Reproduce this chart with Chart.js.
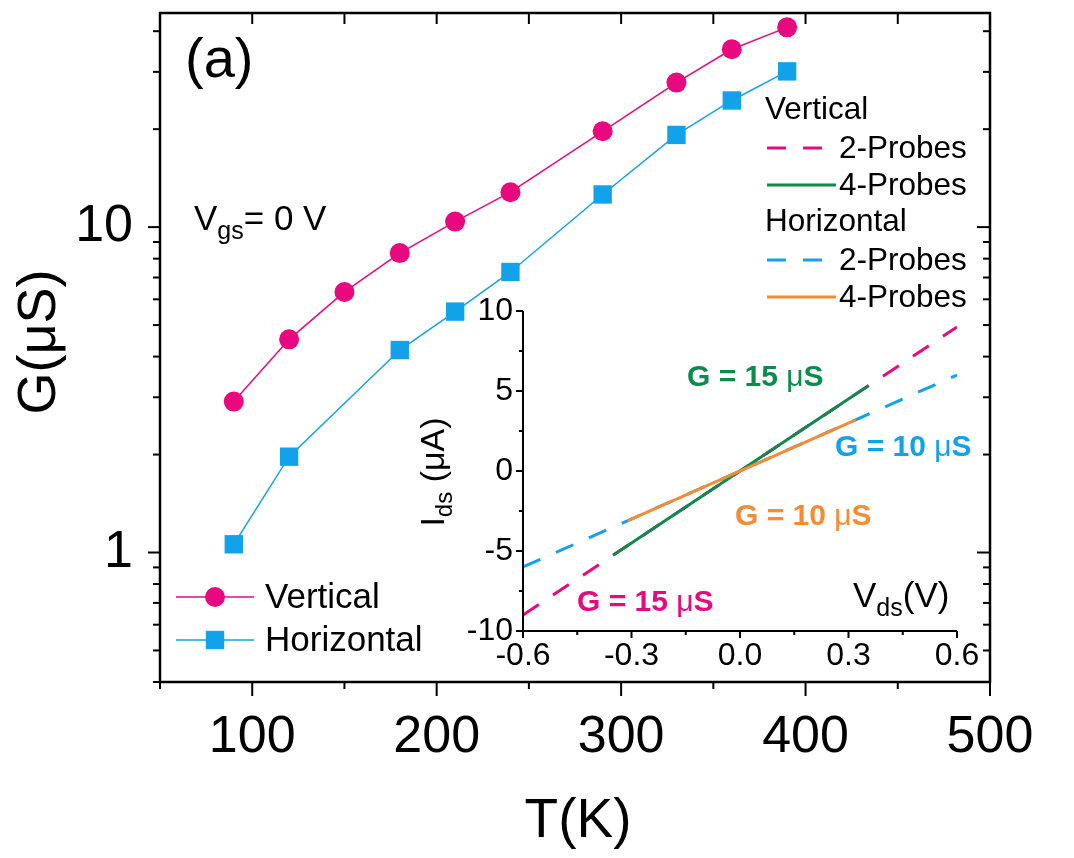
<!DOCTYPE html>
<html>
<head>
<meta charset="utf-8">
<script src="https://cdn.jsdelivr.net/npm/chart.js@4.4.1/dist/chart.umd.min.js"></script>
<style>
  html, body { margin: 0; padding: 0; background: #fff; }
  #wrap { position: relative; width: 1074px; height: 858px; overflow: hidden; }
  #main { position: absolute; left: 0; top: 0; }
  #inset { position: absolute; left: 380px; top: 280px; }
</style>
</head>
<body>
<div id="wrap">
  <canvas id="main" width="1074" height="858"></canvas>
  <canvas id="inset" width="620" height="410"></canvas>
</div>
<script>
// conductance vs temperature, Vgs = 0 V
const tVertical = [90, 120, 150, 180, 210, 240, 290, 330, 360, 390];
const gVertical = [2.91, 4.52, 6.32, 8.32, 10.4, 12.8, 19.7, 27.8, 35.2, 41.1];
const tHorizontal = [90, 120, 180, 210, 240, 290, 330, 360, 390];
const gHorizontal = [1.06, 1.97, 4.19, 5.50, 7.28, 12.6, 19.2, 24.5, 30.1];

const tTicks = [50, 100, 150, 200, 250, 300, 350, 400, 450, 500];
const tLabels = [100, 200, 300, 400, 500];
const gTicks = [0.4, 0.5, 0.6, 0.7, 0.8, 0.9, 1, 2, 3, 4, 5, 6, 7, 8, 9, 10, 20, 30, 40];
const gLabels = [1, 10];

// inset: I-V curves (V in volts, I in µA)
const vV2 = [-0.6, 0.6];      const iV2 = [-9, 9];        // vertical, 2 probes
const vV4 = [-0.35, 0.355];   const iV4 = [-5.25, 5.33];  // vertical, 4 probes
const vH2 = [-0.6, 0.6];      const iH2 = [-6, 6];        // horizontal, 2 probes
const vH4 = [-0.31, 0.32];    const iH4 = [-3.1, 3.2];    // horizontal, 4 probes

const vdsTicks = [-0.6, -0.45, -0.3, -0.15, 0, 0.15, 0.3, 0.45, 0.6];
const vdsLabels = [-0.6, -0.3, 0, 0.3, 0.6];
const idsTicks = [-10, -7.5, -5, -2.5, 0, 2.5, 5, 7.5, 10];
const idsLabels = [-10, -5, 0, 5, 10];

const PINK = '#E8097F';
const BLUE = '#12A2EA';
const GREEN = '#0E8A4E';
const ORANGE = '#F58C35';
const DASH = [19, 17];
const FONT = "'Liberation Sans', Arial, sans-serif";

const pts = (xs, ys) => xs.map((x, i) => ({ x, y: ys[i] }));
const hasVal = (arr, v) => arr.some(a => Math.abs(a - v) < 1e-9);

function line(ctx, x1, y1, x2, y2) {
  ctx.beginPath(); ctx.moveTo(x1, y1); ctx.lineTo(x2, y2); ctx.stroke();
}

// draw text pieces one after another (for subscripts)
function drawRuns(ctx, x, y, runs) {
  let cx = x;
  runs.forEach(r => {
    ctx.font = r.font;
    ctx.fillStyle = r.color || '#000';
    ctx.fillText(r.text, cx, y + (r.dy || 0));
    cx += ctx.measureText(r.text).width;
  });
  return cx - x;
}
function runsWidth(ctx, runs) {
  let w = 0;
  runs.forEach(r => { ctx.font = r.font; w += ctx.measureText(r.text).width; });
  return w;
}

const mainDecor = {
  id: 'mainDecor',
  afterDraw(chart) {
    const { ctx, chartArea: a, scales: { x, y } } = chart;
    ctx.save();
    ctx.strokeStyle = '#000';
    ctx.lineWidth = 2.5;
    ctx.strokeRect(a.left, a.top, a.right - a.left, a.bottom - a.top);
    ctx.lineWidth = 2;
    x.ticks.forEach(t => {
      const px = x.getPixelForValue(t.value);
      const major = hasVal(tLabels, t.value);
      line(ctx, px, a.bottom, px, a.bottom + (major ? 14 : 7));
      line(ctx, px, a.top, px, a.top + 11);
    });
    y.ticks.forEach(t => {
      const py = y.getPixelForValue(t.value);
      const major = hasVal(gLabels, t.value);
      line(ctx, a.left, py, a.left - (major ? 12 : 7), py);
      line(ctx, a.right, py, a.right - (major ? 13 : 7), py);
    });

    // axis titles
    ctx.fillStyle = '#000';
    ctx.textAlign = 'center';
    ctx.textBaseline = 'middle';
    ctx.font = `55px ${FONT}`;
    ctx.fillText('T(K)', 578, 822);
    ctx.save();
    ctx.translate(40, 342);
    ctx.rotate(-Math.PI / 2);
    ctx.font = `54px ${FONT}`;
    ctx.fillText('G(\u03bcS)', 0, 0);
    ctx.restore();

    // panel label and gate voltage
    ctx.textAlign = 'left';
    ctx.textBaseline = 'alphabetic';
    ctx.font = `56px ${FONT}`;
    ctx.fillText('(a)', 185, 77);
    drawRuns(ctx, 194, 230, [
      { text: 'V', font: `35px ${FONT}` },
      { text: 'gs', font: `25px ${FONT}`, dy: 9 },
      { text: '= 0 V', font: `35px ${FONT}` }
    ]);

    // legend for the G(T) series
    const ds = chart.data.datasets;
    ctx.textBaseline = 'middle';
    [[ds[0], 597], [ds[1], 640]].forEach(([d, ly]) => {
      ctx.strokeStyle = d.borderColor;
      ctx.lineWidth = d.borderWidth;
      line(ctx, 176, ly, 254, ly);
      ctx.fillStyle = d.pointBackgroundColor;
      if (d.pointStyle === 'circle') {
        ctx.beginPath(); ctx.arc(215, ly, d.pointRadius, 0, Math.PI * 2); ctx.fill();
      } else {
        const s = d.pointRadius * Math.SQRT1_2;
        ctx.fillRect(215 - s, ly - s, 2 * s, 2 * s);
      }
      ctx.fillStyle = '#000';
      ctx.font = `35px ${FONT}`;
      ctx.fillText(d.label, 265, ly + 1);
    });

    // legend for the inset curves
    const ins = insetChart ? insetChart.data.datasets : [];
    const rows = [
      { head: 'Vertical', y: 110 },
      { ds: ins.find(d => d.label === 'Vertical 2-Probes'), text: '2-Probes', y: 148 },
      { ds: ins.find(d => d.label === 'Vertical 4-Probes'), text: '4-Probes', y: 185 },
      { head: 'Horizontal', y: 222 },
      { ds: ins.find(d => d.label === 'Horizontal 2-Probes'), text: '2-Probes', y: 260 },
      { ds: ins.find(d => d.label === 'Horizontal 4-Probes'), text: '4-Probes', y: 297 }
    ];
    ctx.font = `31.5px ${FONT}`;
    rows.forEach(r => {
      ctx.fillStyle = '#000';
      if (r.head) { ctx.fillText(r.head, 765, r.y); return; }
      if (r.ds) {
        ctx.save();
        ctx.strokeStyle = r.ds.borderColor;
        ctx.lineWidth = 3;
        ctx.setLineDash(r.ds.borderDash || []);
        line(ctx, 767, r.y, 836, r.y);
        ctx.restore();
      }
      ctx.fillText(r.text, 839, r.y + 1);
    });
    ctx.restore();
  }
};

const insetDecor = {
  id: 'insetDecor',
  afterDraw(chart) {
    const { ctx, chartArea: a, scales: { x, y } } = chart;
    ctx.save();
    ctx.strokeStyle = '#000';
    ctx.lineWidth = 2;
    line(ctx, a.left, a.top, a.left, a.bottom + 1);
    line(ctx, a.left - 1, a.bottom, a.right, a.bottom);
    x.ticks.forEach(t => {
      const px = x.getPixelForValue(t.value);
      line(ctx, px, a.bottom, px, a.bottom + (hasVal(vdsLabels, t.value) ? 7 : 4));
    });
    y.ticks.forEach(t => {
      const py = y.getPixelForValue(t.value);
      line(ctx, a.left, py, a.left - (hasVal(idsLabels, t.value) ? 7 : 4), py);
    });

    // annotations (offset of the canvas inside the page: 380, 280)
    const ox = -380, oy = -280;
    ctx.textAlign = 'left';
    ctx.textBaseline = 'middle';
    const gText = (x0, y0, val, color) => drawRuns(ctx, x0 + ox, y0 + oy, [
      { text: `G = ${val} `, font: `bold 30px ${FONT}`, color },
      { text: '\u03bc', font: `30px ${FONT}`, color },
      { text: 'S', font: `bold 30px ${FONT}`, color }
    ]);
    gText(687, 378, 15, GREEN);
    gText(835, 448, 10, BLUE);
    gText(735, 517, 10, ORANGE);
    gText(577, 603, 15, PINK);

    ctx.textBaseline = 'alphabetic';
    drawRuns(ctx, 853 + ox, 607 + oy, [
      { text: 'V', font: `35px ${FONT}` },
      { text: 'ds', font: `25px ${FONT}`, dy: 9 },
      { text: '(V)', font: `35px ${FONT}` }
    ]);
    const iRuns = [
      { text: 'I', font: `34px ${FONT}` },
      { text: 'ds', font: `24px ${FONT}`, dy: 8 },
      { text: ' (\u03bcA)', font: `34px ${FONT}` }
    ];
    ctx.save();
    ctx.translate(444 + ox, 472 + oy);
    ctx.rotate(-Math.PI / 2);
    drawRuns(ctx, -runsWidth(ctx, iRuns) / 2, 0, iRuns);
    ctx.restore();
    ctx.restore();
  }
};

// keep tick-label overhang from shifting the plot area
const noOverhang = s => { s.paddingTop = 0; s.paddingBottom = 0; s.paddingLeft = 0; s.paddingRight = 0; };

let insetChart = null;

insetChart = new Chart(document.getElementById('inset'), {
  type: 'line',
  data: {
    datasets: [
      { label: 'Horizontal 4-Probes', data: pts(vH4, iH4), borderColor: ORANGE, borderWidth: 3 },
      { label: 'Vertical 4-Probes', data: pts(vV4, iV4), borderColor: GREEN, borderWidth: 3 },
      { label: 'Horizontal 2-Probes', data: pts(vH2, iH2), borderColor: BLUE, borderWidth: 3, borderDash: DASH },
      { label: 'Vertical 2-Probes', data: pts(vV2, iV2), borderColor: PINK, borderWidth: 3, borderDash: DASH }
    ]
  },
  options: {
    responsive: false,
    animation: false,
    devicePixelRatio: 1,
    events: [],
    layout: { padding: { top: 31, right: 43, left: 0, bottom: 0 } },
    elements: { point: { radius: 0 }, line: { tension: 0 } },
    plugins: { legend: { display: false }, tooltip: { enabled: false } },
    scales: {
      x: {
        type: 'linear', min: -0.6, max: 0.6,
        afterBuildTicks: s => { s.ticks = vdsTicks.map(v => ({ value: v })); },
        afterFit: s => { s.height = 59; noOverhang(s); },
        grid: { display: false, drawTicks: false },
        border: { display: false },
        ticks: {
          padding: 6, color: '#000', font: { family: FONT, size: 32 }, maxRotation: 0, autoSkip: false,
          callback: v => hasVal(vdsLabels, v) ? (Math.abs(v) < 1e-9 ? '0.0' : v.toFixed(1)) : ''
        }
      },
      y: {
        type: 'linear', min: -10, max: 10,
        afterBuildTicks: s => { s.ticks = idsTicks.map(v => ({ value: v })); },
        afterFit: s => { s.width = 143; noOverhang(s); },
        grid: { display: false, drawTicks: false },
        border: { display: false },
        ticks: {
          padding: 10, color: '#000', font: { family: FONT, size: 32 }, autoSkip: false,
          callback: v => hasVal(idsLabels, v) ? String(v) : ''
        }
      }
    }
  },
  plugins: [insetDecor]
});

new Chart(document.getElementById('main'), {
  type: 'line',
  data: {
    datasets: [
      {
        label: 'Vertical', data: pts(tVertical, gVertical),
        borderColor: PINK, borderWidth: 1.5, pointStyle: 'circle', pointRadius: 10,
        pointBackgroundColor: PINK, pointBorderWidth: 0
      },
      {
        label: 'Horizontal', data: pts(tHorizontal, gHorizontal),
        borderColor: BLUE, borderWidth: 1.5, pointStyle: 'rect', pointRadius: 13,
        pointBackgroundColor: BLUE, pointBorderWidth: 0
      }
    ]
  },
  options: {
    responsive: false,
    animation: false,
    devicePixelRatio: 1,
    events: [],
    layout: { padding: { top: 8, right: 84, left: 0, bottom: 0 } },
    elements: { line: { tension: 0 } },
    plugins: { legend: { display: false }, tooltip: { enabled: false } },
    scales: {
      x: {
        type: 'linear', min: 50, max: 500,
        afterBuildTicks: s => { s.ticks = tTicks.map(v => ({ value: v })); },
        afterFit: s => { s.height = 176; noOverhang(s); },
        grid: { display: false, drawTicks: false },
        border: { display: false },
        ticks: {
          padding: 24, color: '#000', font: { family: FONT, size: 52 }, maxRotation: 0, autoSkip: false,
          callback: v => hasVal(tLabels, v) ? String(v) : ''
        }
      },
      y: {
        type: 'logarithmic', min: 0.4, max: 45.5,
        afterBuildTicks: s => { s.ticks = gTicks.map(v => ({ value: v })); },
        afterFit: s => { s.width = 160; noOverhang(s); },
        grid: { display: false, drawTicks: false },
        border: { display: false },
        ticks: {
          padding: 27, color: '#000', font: { family: FONT, size: 52 }, autoSkip: false,
          callback: v => hasVal(gLabels, v) ? String(v) : ''
        }
      }
    }
  },
  plugins: [mainDecor]
});
</script>
</body>
</html>
